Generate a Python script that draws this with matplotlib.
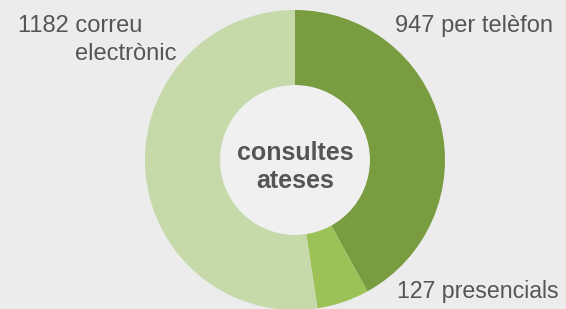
import numpy as np
import matplotlib.pyplot as plt

labels = ["947 per telèfon", "127 presencials", "1182 correu electrònic"]
values = [947, 127, 1182]
colors = ["#7a9c41", "#9cc257", "#c5d9a9"]

W, H = 566, 309
fig = plt.figure(figsize=(W / 100, H / 100), dpi=100)
fig.patch.set_facecolor("#ececec")

# donut centre (295, 160) px, radius 150 px
cx, cy, r = 295, 160, 150
ax = fig.add_axes([(cx - r) / W, (H - cy - r) / H, 2 * r / W, 2 * r / H])
ax.pie(values, colors=colors, startangle=90, counterclock=False, radius=1,
       wedgeprops=dict(width=0.51, linewidth=0))
ax.add_patch(plt.Circle((0, 0), 0.495, color="#f0f0f0", zorder=3))
ax.set_xlim(-1, 1)
ax.set_ylim(-1, 1)
ax.axis("off")

txt = dict(color="#555555", fontsize=17, family="Liberation Sans")


def put(x, y, s, **kw):
    fig.text(x / W, 1 - y / H, s, **{**txt, **kw})


put(18, 32, "1182 correu", va="baseline")
put(75, 60, "electrònic", va="baseline")
put(395, 32, "947 per telèfon", va="baseline")
put(397, 298, "127 presencials", va="baseline", fontsize=16.7)
put(295, 160, "consultes", ha="center", va="baseline", weight="bold", fontsize=18)
put(295, 188, "ateses", ha="center", va="baseline", weight="bold", fontsize=18)

fig.savefig("out.png", dpi=100, facecolor=fig.get_facecolor())
